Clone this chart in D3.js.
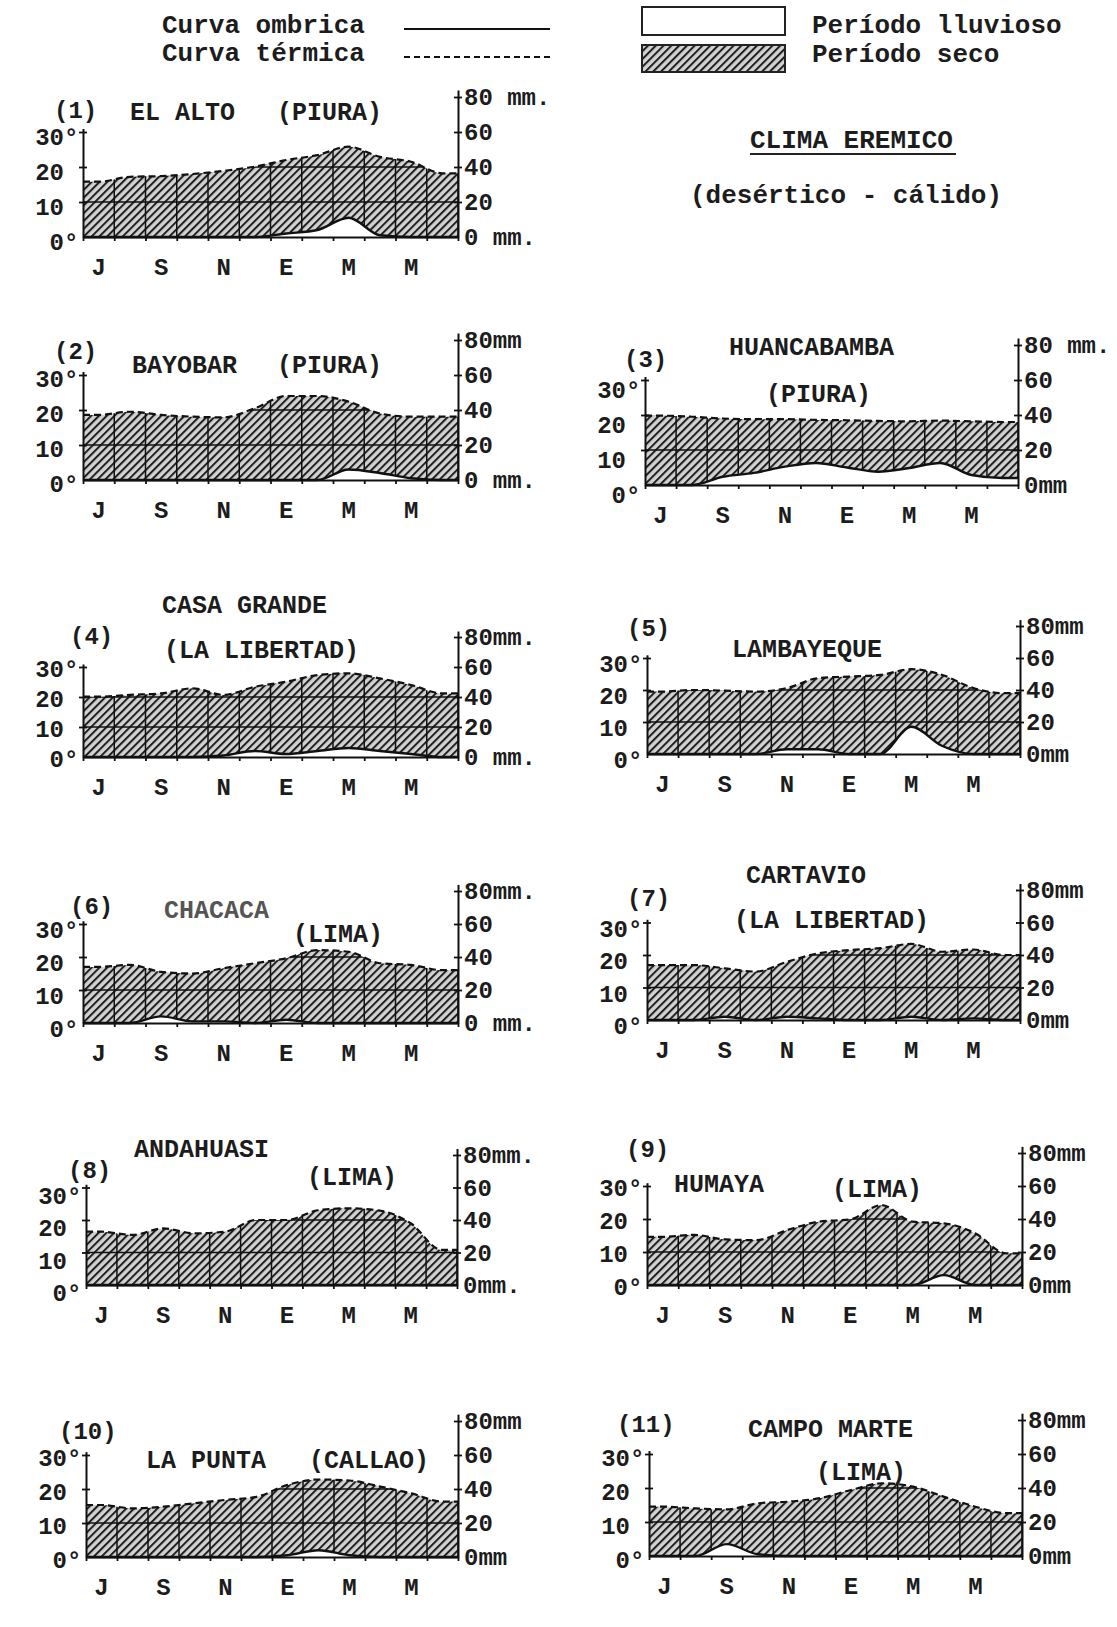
<!DOCTYPE html>
<html>
<head>
<meta charset="utf-8">
<script src="https://cdn.jsdelivr.net/npm/d3@7"></script>
<style>
  body { margin: 0; background: #fff; }
  text { font-family: "Liberation Mono", "DejaVu Sans Mono", monospace; fill: #1c1c1c; font-weight: bold; }
</style>
</head>
<body>
<script>
var width = 1117, height = 1627;

// months from July to June, only every other one is labelled
var months = ["Jul","Ago","Sep","Oct","Nov","Dic","Ene","Feb","Mar","Abr","May","Jun"];
var monthLabels = ["J","","S","","N","","E","","M","","M",""];

var stationNums    = ["(1)","(2)","(3)","(4)","(5)","(6)","(7)","(8)","(9)","(10)","(11)"];
var stationNames   = ["EL ALTO","BAYOBAR","HUANCABAMBA","CASA GRANDE","LAMBAYEQUE","CHACACA",
                      "CARTAVIO","ANDAHUASI","HUMAYA","LA PUNTA","CAMPO MARTE"];
var stationRegions = ["(PIURA)","(PIURA)","(PIURA)","(LA LIBERTAD)","","(LIMA)",
                      "(LA LIBERTAD)","(LIMA)","(LIMA)","(CALLAO)","(LIMA)"];

// mean monthly temperature (°C), Jul..Jun
var tempData = [
  [15.8, 17.2, 17.4, 18.0, 18.9, 20.1, 22.0, 23.4, 25.8, 22.9, 21.5, 18.2],
  [18.6, 19.5, 18.6, 18.1, 17.9, 20.5, 24.0, 24.0, 22.4, 19.0, 18.1, 18.1],
  [19.8, 19.5, 19.0, 18.8, 18.8, 18.6, 18.5, 18.3, 18.2, 18.4, 18.2, 18.0],
  [20.1, 20.7, 21.2, 22.9, 20.7, 23.4, 25.1, 27.3, 27.9, 26.2, 24.0, 21.2],
  [19.5, 20.0, 19.8, 19.5, 20.6, 23.7, 24.2, 24.7, 26.5, 24.7, 20.6, 19.0],
  [17.0, 17.6, 15.5, 15.0, 16.6, 18.1, 19.6, 22.1, 21.6, 18.1, 17.6, 16.0],
  [16.9, 16.9, 15.9, 14.9, 17.9, 20.5, 21.5, 22.1, 23.4, 21.0, 21.7, 20.0],
  [16.4, 15.4, 17.4, 15.9, 16.4, 20.0, 20.0, 23.0, 23.6, 22.9, 19.0, 10.8],
  [14.6, 15.2, 13.8, 13.6, 16.7, 19.2, 19.9, 24.2, 19.2, 18.7, 15.7, 9.6],
  [15.3, 14.3, 14.8, 15.8, 16.8, 17.7, 21.2, 22.8, 22.5, 20.7, 18.7, 16.3],
  [14.5, 14.0, 13.7, 15.5, 16.0, 17.0, 19.4, 21.4, 20.4, 17.4, 14.5, 12.6]
];

// monthly rainfall (mm), Jul..Jun
var rainData = [
  [0, 0, 0, 0, 0, 0, 2, 4, 11, 1, 0, 0],
  [0, 0, 0, 0, 0, 0, 0, 0, 6, 4, 1, 0],
  [0, 0, 4.7, 6.9, 10.5, 12.6, 10, 7.6, 9.7, 12.6, 5.7, 4],
  [0, 0, 0, 0, 1, 4, 2, 4, 6, 4, 2, 0],
  [0, 0, 0, 0, 3, 3, 0, 0, 17, 5, 0, 0],
  [0, 0, 4, 1, 1, 0, 2, 0, 0, 0, 0, 0],
  [0, 0, 2, 0, 2, 1, 0, 0, 2, 0, 1, 0],
  [0, 0, 0, 0, 0, 0, 0, 0, 0, 0, 0, 0],
  [0, 0, 0, 0, 0, 0, 0, 0, 0, 6, 0, 0],
  [0, 0, 0, 0, 0, 0, 1, 4, 1, 0, 0, 0],
  [0, 0, 7, 1, 0, 0, 0, 0, 0, 0, 0, 0]
];

var degTicks = [0, 10, 20, 30];
var mmTicks = [0, 20, 40, 60, 80];
var topUnits    = [" mm.","mm"," mm.","mm.","mm","mm.","mm","mm.","mm","mm","mm"];
var bottomUnits = [" mm."," mm.","mm"," mm.","mm"," mm.","mm","mm.","mm","mm","mm"];

// where each little diagram sits on the page (not data); lo = nudge of the °C labels
var frames = [
  {x0: 83,  x1: 458,  y0: 237,  k: 3.5,  lo: 5,  num: [54, 118],  name: [130, 120], reg: [277, 120]},
  {x0: 83,  x1: 458,  y0: 480,  k: 3.5,  lo: 4,  num: [54, 359],  name: [132, 373], reg: [277, 373]},
  {x0: 645, x1: 1018, y0: 485,  k: 3.5,  lo: 10, num: [624, 367], name: [729, 355], reg: [766, 402]},
  {x0: 83,  x1: 458,  y0: 757,  k: 3.0,  lo: 2,  num: [70, 644],  name: [162, 613], reg: [164, 658]},
  {x0: 647, x1: 1020, y0: 754,  k: 3.2,  lo: 6,  num: [627, 636], name: [732, 657], reg: [0, 0]},
  {x0: 83,  x1: 458,  y0: 1023, k: 3.3,  lo: 6,  num: [70, 914],  name: [164, 918], reg: [293, 942]},
  {x0: 647, x1: 1020, y0: 1020, k: 3.25, lo: 6,  num: [627, 906], name: [746, 883], reg: [734, 928]},
  {x0: 86,  x1: 457,  y0: 1285, k: 3.25, lo: 8,  num: [68, 1178], name: [134, 1157], reg: [307, 1185]},
  {x0: 647, x1: 1022, y0: 1285, k: 3.3,  lo: 2,  num: [626, 1157], name: [674, 1192], reg: [832, 1197]},
  {x0: 86,  x1: 458,  y0: 1557, k: 3.4,  lo: 3,  num: [59, 1439], name: [146, 1468], reg: [309, 1468]},
  {x0: 649, x1: 1022, y0: 1556, k: 3.4,  lo: 4,  num: [617, 1432], name: [748, 1437], reg: [816, 1480]}
];

var svg = d3.select("body").append("svg")
  .attr("width", width)
  .attr("height", height);

var defs = svg.append("defs");
var pat = defs.append("pattern")
  .attr("id", "hatch")
  .attr("patternUnits", "userSpaceOnUse")
  .attr("width", 5.5).attr("height", 5.5)
  .attr("patternTransform", "rotate(45)");
pat.append("rect").attr("width", 5.5).attr("height", 5.5).attr("fill", "#d2d2d2");
pat.append("line").attr("x1", 1).attr("x2", 1).attr("y1", 0).attr("y2", 5.5)
  .attr("stroke", "#1e1e1e").attr("stroke-width", 2);

// ---- legend / heading
svg.append("text").attr("x", 162).attr("y", 33).attr("font-size", 26).text("Curva ombrica");
svg.append("text").attr("x", 162).attr("y", 61).attr("font-size", 26).text("Curva térmica");
svg.append("line").attr("x1", 404).attr("x2", 550).attr("y1", 29).attr("y2", 29)
  .attr("stroke", "#111").attr("stroke-width", 2);
svg.append("line").attr("x1", 404).attr("x2", 550).attr("y1", 57).attr("y2", 57)
  .attr("stroke", "#111").attr("stroke-width", 2).attr("stroke-dasharray", "6,4");

svg.append("rect").attr("x", 642).attr("y", 7).attr("width", 143).attr("height", 28)
  .attr("fill", "#fff").attr("stroke", "#222").attr("stroke-width", 2);
svg.append("rect").attr("x", 642).attr("y", 45).attr("width", 143).attr("height", 27)
  .attr("fill", "url(#hatch)").attr("stroke", "#222").attr("stroke-width", 2);
svg.append("text").attr("x", 812).attr("y", 33).attr("font-size", 26).text("Período lluvioso");
svg.append("text").attr("x", 812).attr("y", 62).attr("font-size", 26).text("Período seco");

svg.append("text").attr("x", 750).attr("y", 148).attr("font-size", 26).text("CLIMA EREMICO");
svg.append("line").attr("x1", 750).attr("x2", 956).attr("y1", 154).attr("y2", 154)
  .attr("stroke", "#222").attr("stroke-width", 2.2);
svg.append("text").attr("x", 690).attr("y", 203).attr("font-size", 26).text("(desértico - cálido)");

// ---- diagrams
frames.forEach(function(f, i) {
  var g = svg.append("g");
  var x = d3.scaleLinear().domain([0, 12]).range([f.x0, f.x1]);
  var y = d3.scaleLinear().domain([0, 40]).range([f.y0, f.y0 - 40 * f.k]);
  var yMm = d3.scaleLinear().domain([0, 80]).range([f.y0, f.y0 - 40 * f.k]);

  // points at month centres, carried flat to the two edges
  function pts(vals) {
    var p = vals.map(function(v, j) { return [j + 0.5, v]; });
    return [[0, vals[0]]].concat(p, [[12, vals[11]]]);
  }
  var tPts = pts(tempData[i]);
  var rPts = pts(rainData[i]);

  var tArea = d3.area().curve(d3.curveMonotoneX)
    .x(function(d) { return x(d[0]); }).y0(f.y0).y1(function(d) { return y(d[1]); });
  var tLine = d3.line().curve(d3.curveMonotoneX)
    .x(function(d) { return x(d[0]); }).y(function(d) { return y(d[1]); });
  var rArea = d3.area().curve(d3.curveMonotoneX)
    .x(function(d) { return x(d[0]); }).y0(f.y0).y1(function(d) { return yMm(d[1]); });
  var rLine = d3.line().curve(d3.curveMonotoneX)
    .x(function(d) { return x(d[0]); }).y(function(d) { return yMm(d[1]); });

  defs.append("clipPath").attr("id", "clip" + i)
    .append("path").attr("d", tArea(tPts));

  g.append("path").attr("d", tArea(tPts)).attr("fill", "url(#hatch)");

  var grid = g.append("g").attr("clip-path", "url(#clip" + i + ")");
  grid.selectAll("line.v").data(d3.range(13)).enter().append("line")
    .attr("x1", function(d) { return x(d); }).attr("x2", function(d) { return x(d); })
    .attr("y1", f.y0).attr("y2", y(40))
    .attr("stroke", "#111").attr("stroke-width", 1.5);
  grid.selectAll("line.h").data([10, 20]).enter().append("line")
    .attr("x1", f.x0).attr("x2", f.x1)
    .attr("y1", function(d) { return y(d); }).attr("y2", function(d) { return y(d); })
    .attr("stroke", "#111").attr("stroke-width", 1.5);

  g.append("path").attr("d", rArea(rPts)).attr("fill", "#fff");
  g.append("path").attr("d", rLine(rPts)).attr("fill", "none")
    .attr("stroke", "#111").attr("stroke-width", 2.4);
  g.append("path").attr("d", tLine(tPts)).attr("fill", "none")
    .attr("stroke", "#111").attr("stroke-width", 2.2).attr("stroke-dasharray", "7,4");

  // axes
  var yLeft = d3.scaleLinear().domain([0, 31]).range([f.y0, y(31)]);
  var left = g.append("g").attr("transform", "translate(" + f.x0 + ",0)")
    .call(d3.axisLeft(yLeft).tickValues([10, 20, 30]).tickSize(4).tickSizeOuter(0).tickFormat(""));
  var yRight = d3.scaleLinear().domain([0, 84]).range([f.y0, yMm(84)]);
  var right = g.append("g").attr("transform", "translate(" + f.x1 + ",0)")
    .call(d3.axisRight(yRight).tickValues([20, 40, 60, 80]).tickSize(4).tickSizeOuter(0).tickFormat(""));
  var bottom = g.append("g").attr("transform", "translate(0," + f.y0 + ")")
    .call(d3.axisBottom(x).tickValues(d3.range(13)).tickSize(4).tickSizeOuter(0).tickFormat(""));
  [left, right, bottom].forEach(function(a) {
    a.selectAll("path.domain").attr("stroke", "#111").attr("stroke-width", 2);
    a.selectAll(".tick line").attr("stroke", "#111").attr("stroke-width", 1.8);
  });
  left.selectAll(".tick line").attr("x1", -4).attr("x2", 4);
  right.selectAll(".tick line").attr("x1", -4).attr("x2", 4);

  // left labels: digits right-aligned, degree sign after 0 and 30
  g.selectAll("text.deg").data(degTicks).enter().append("text")
    .attr("x", f.x0 - 19).attr("y", function(d) { return y(d) + f.lo; })
    .attr("dy", "0.35em").attr("text-anchor", "end").attr("font-size", 24)
    .text(function(d) { return d; });
  g.selectAll("text.degsign").data(degTicks.filter(function(d) { return d === 0 || d === 30; }))
    .enter().append("text")
    .attr("x", f.x0 - 19).attr("y", function(d) { return y(d) + f.lo; })
    .attr("dy", "0.35em").attr("font-size", 24)
    .text("°");

  g.selectAll("text.mm").data(mmTicks).enter().append("text")
    .attr("x", f.x1 + 6).attr("y", function(d) { return yMm(d); })
    .attr("dy", "0.35em").attr("font-size", 24)
    .text(function(d) {
      if (d === 80) return d + topUnits[i];
      if (d === 0) return d + bottomUnits[i];
      return d;
    });

  g.selectAll("text.month").data(monthLabels).enter().append("text")
    .attr("x", function(d, j) { return x(j + 0.5); }).attr("y", f.y0 + 38)
    .attr("text-anchor", "middle").attr("font-size", 24)
    .text(function(d) { return d; });

  g.append("text").attr("x", f.num[0]).attr("y", f.num[1]).attr("font-size", 24).text(stationNums[i]);
  g.append("text").attr("x", f.name[0]).attr("y", f.name[1]).attr("font-size", 25)
    .style("fill", i === 5 ? "#555" : null).text(stationNames[i]);
  if (stationRegions[i]) {
    g.append("text").attr("x", f.reg[0]).attr("y", f.reg[1]).attr("font-size", 25).text(stationRegions[i]);
  }
});
</script>
</body>
</html>
